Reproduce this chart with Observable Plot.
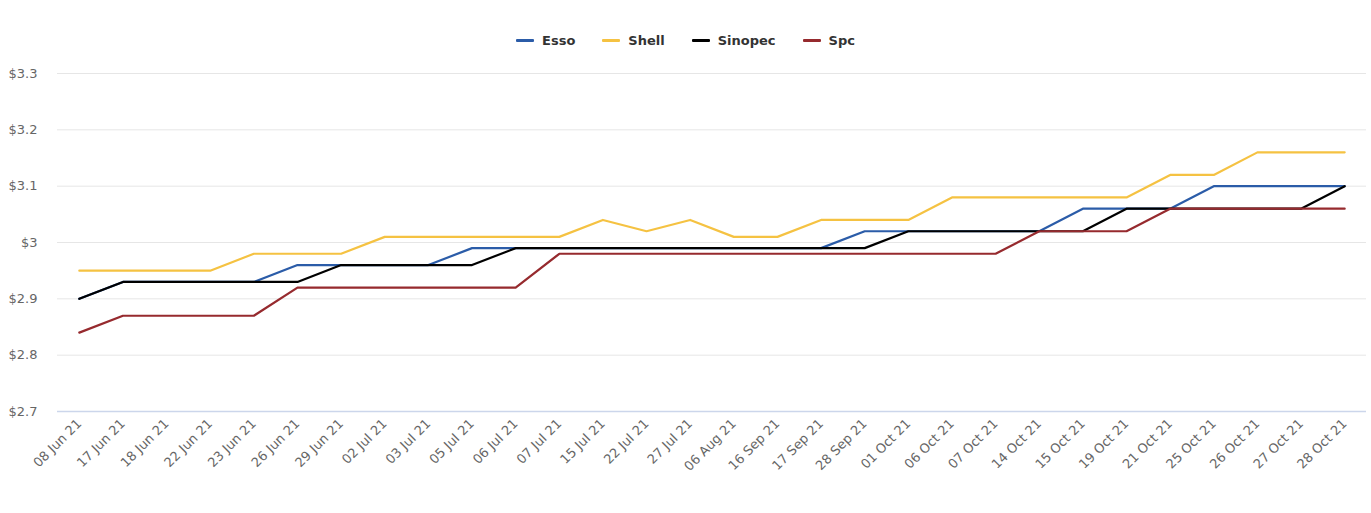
<!DOCTYPE html>
<html>
<head>
<meta charset="utf-8">
<script src="https://cdn.jsdelivr.net/npm/d3@7"></script>
<script src="https://cdn.jsdelivr.net/npm/@observablehq/plot@0.6"></script>
<style>
  html, body { margin: 0; padding: 0; background: #fff; }
  #legend { height: 60px; display: flex; justify-content: center; align-items: flex-start; font-family: "DejaVu Sans", sans-serif; font-weight: bold; font-size: 13px; color: #333; }
  #legend .item { display: flex; align-items: center; margin: 31px 13.5px 0 13.5px; height: 18px; }
  #legend .sw { width: 18px; height: 3px; margin-right: 8px; border-radius: 1px; }
</style>
</head>
<body>
<div id="legend"></div>
<div id="chart"></div>
<script>
const dates = ["08 Jun 21","17 Jun 21","18 Jun 21","22 Jun 21","23 Jun 21","26 Jun 21","29 Jun 21","02 Jul 21","03 Jul 21","05 Jul 21","06 Jul 21","07 Jul 21","15 Jul 21","22 Jul 21","27 Jul 21","06 Aug 21","16 Sep 21","17 Sep 21","28 Sep 21","01 Oct 21","06 Oct 21","07 Oct 21","14 Oct 21","15 Oct 21","19 Oct 21","21 Oct 21","25 Oct 21","26 Oct 21","27 Oct 21","28 Oct 21"];

const esso    = [2.90,2.93,2.93,2.93,2.93,2.96,2.96,2.96,2.96,2.99,2.99,2.99,2.99,2.99,2.99,2.99,2.99,2.99,3.02,3.02,3.02,3.02,3.02,3.06,3.06,3.06,3.10,3.10,3.10,3.10];
const shell   = [2.95,2.95,2.95,2.95,2.98,2.98,2.98,3.01,3.01,3.01,3.01,3.01,3.04,3.02,3.04,3.01,3.01,3.04,3.04,3.04,3.08,3.08,3.08,3.08,3.08,3.12,3.12,3.16,3.16,3.16];
const sinopec = [2.90,2.93,2.93,2.93,2.93,2.93,2.96,2.96,2.96,2.96,2.99,2.99,2.99,2.99,2.99,2.99,2.99,2.99,2.99,3.02,3.02,3.02,3.02,3.02,3.06,3.06,3.06,3.06,3.06,3.10];
const spc     = [2.84,2.87,2.87,2.87,2.87,2.92,2.92,2.92,2.92,2.92,2.92,2.98,2.98,2.98,2.98,2.98,2.98,2.98,2.98,2.98,2.98,2.98,3.02,3.02,3.02,3.06,3.06,3.06,3.06,3.06];

const seriesNames = ["Esso","Shell","Sinopec","Spc"];
const seriesColors = ["#2b5ca8","#f5c242","#000000","#962a2e"];
const yTicks = [2.7,2.8,2.9,3,3.1,3.2,3.3];

const seriesValues = [esso, shell, sinopec, spc];
const data = [];
seriesNames.forEach((name, s) => {
  dates.forEach((d, i) => data.push({date: d, brand: name, price: seriesValues[s][i]}));
});

// Legend
const legend = document.getElementById("legend");
seriesNames.forEach((n, i) => {
  const item = document.createElement("div");
  item.className = "item";
  const sw = document.createElement("span");
  sw.className = "sw";
  sw.style.background = seriesColors[i];
  const t = document.createElement("span");
  t.textContent = n;
  item.appendChild(sw);
  item.appendChild(t);
  legend.appendChild(item);
});

const chart = Plot.plot({
  width: 1371,
  height: 453,
  marginTop: 13,
  marginBottom: 102,
  marginLeft: 57,
  marginRight: 5,
  style: {fontFamily: "DejaVu Sans, sans-serif", fontSize: "13px", background: "#fff"},
  x: {type: "point", domain: dates, padding: 0.5, round: false},
  y: {domain: [2.7, 3.3]},
  color: {domain: seriesNames, range: seriesColors},
  marks: [
    Plot.gridY(yTicks, {stroke: "#e6e6e6", strokeOpacity: 1}),
    Plot.ruleY([2.7], {stroke: "#ccd6eb", strokeWidth: 1.5}),
    Plot.axisY(yTicks, {tickSize: 0, tickPadding: 20, tickFormat: d => "$" + d, fill: "#666", fontSize: 13, label: null}),
    Plot.axisX({tickSize: 0, tickPadding: 10, tickRotate: -45, fill: "#666", fontSize: 13, label: null}),
    Plot.line(data, {x: "date", y: "price", z: "brand", stroke: "brand", strokeWidth: 2.2})
  ]
});
document.getElementById("chart").appendChild(chart);
</script>
</body>
</html>
